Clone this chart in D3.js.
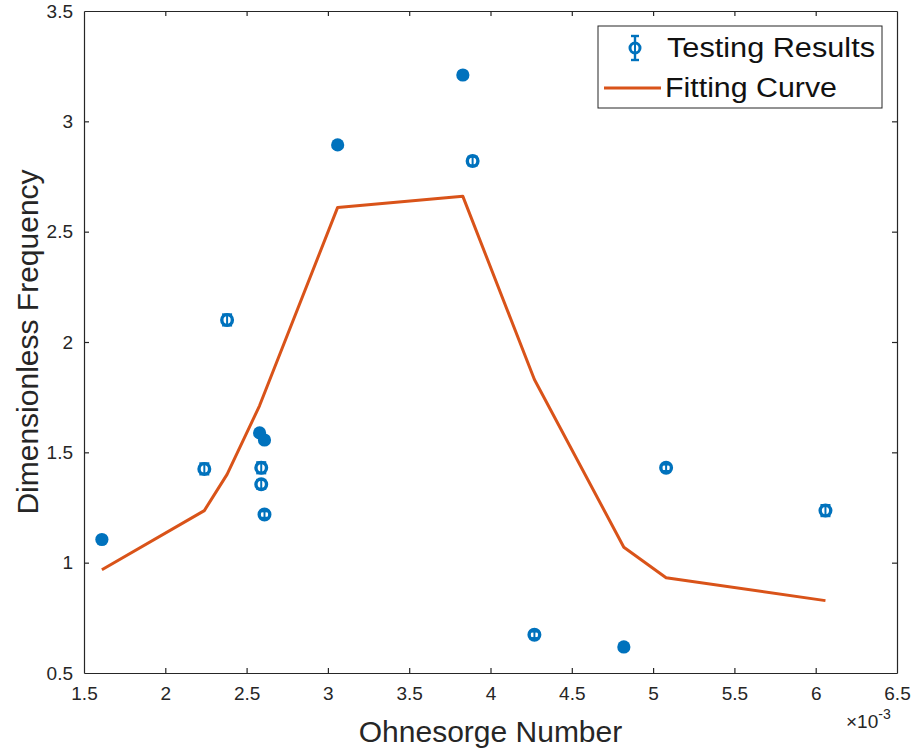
<!DOCTYPE html>
<html>
<head>
<meta charset="utf-8">
<script src="https://cdn.jsdelivr.net/npm/d3@7"></script>
<style>
  html, body { margin: 0; padding: 0; background: #fff; }
  svg { display: block; font-family: "Liberation Sans", Arial, sans-serif; }
</style>
</head>
<body>
<svg id="chart" width="914" height="751"></svg>
<script>
// Measured Ohnesorge numbers (×10^-3) and dimensionless frequencies
const ohnesorge = [1.61, 2.24, 2.38, 2.58, 2.61, 2.59, 2.59, 2.61, 3.06, 3.83, 3.89, 4.27, 4.82, 5.08, 6.06];
const frequency = [1.105, 1.425, 2.10, 1.588, 1.556, 1.430, 1.355, 1.218, 2.893, 3.21, 2.82, 0.673, 0.618, 1.430, 1.236];
const errorBar  = [0.00, 0.025, 0.025, 0.00, 0.00, 0.025, 0.02, 0.015, 0.00, 0.00, 0.02, 0.015, 0.00, 0.015, 0.025];

// Fitting curve vertices
const fitX = [1.61, 2.24, 2.38, 2.58, 3.06, 3.83, 4.27, 4.82, 5.08, 6.06];
const fitY = [0.968, 1.236, 1.40, 1.712, 2.61, 2.66, 1.83, 1.07, 0.932, 0.828];

const xTicks = [1.5, 2, 2.5, 3, 3.5, 4, 4.5, 5, 5.5, 6, 6.5];
const yTicks = [0.5, 1, 1.5, 2, 2.5, 3, 3.5];

const svg = d3.select("#chart");
const plotL = 84, plotR = 897, plotT = 11, plotB = 673;

const x = d3.scaleLinear().domain([1.5, 6.5]).range([plotL, plotR]);
const y = d3.scaleLinear().domain([0.5, 3.5]).range([plotB, plotT]);

const blue = "#0072BD", orange = "#D95319", axisCol = "#262626";

// Axes with inward ticks
const tickLen = 5;
const xAxis = svg.append("g").attr("transform", `translate(0,${plotB})`)
  .call(d3.axisBottom(x).tickValues(xTicks).tickSizeInner(-tickLen).tickSizeOuter(0).tickPadding(14).tickFormat(d3.format("")));
const xAxisTop = svg.append("g").attr("transform", `translate(0,${plotT})`)
  .call(d3.axisTop(x).tickValues(xTicks).tickSizeInner(-tickLen).tickSizeOuter(0).tickFormat(""));
const yAxis = svg.append("g").attr("transform", `translate(${plotL},0)`)
  .call(d3.axisLeft(y).tickValues(yTicks).tickSizeInner(-tickLen).tickSizeOuter(0).tickPadding(11).tickFormat(d3.format("")));
const yAxisRight = svg.append("g").attr("transform", `translate(${plotR},0)`)
  .call(d3.axisRight(y).tickValues(yTicks).tickSizeInner(-tickLen).tickSizeOuter(0).tickFormat(""));

[xAxis, xAxisTop, yAxis, yAxisRight].forEach(g => {
  g.select(".domain").attr("stroke", axisCol).attr("stroke-width", 1.2);
  g.selectAll(".tick line").attr("stroke", axisCol).attr("stroke-width", 1.2);
  g.selectAll(".tick text").attr("fill", axisCol).attr("font-size", 19)
    .attr("font-family", '"Liberation Sans", Arial, sans-serif');
});
// drop the edge ticks that sit on the box corners
xAxis.selectAll(".tick line").filter(d => d === 1.5 || d === 6.5).remove();
xAxisTop.selectAll(".tick line").filter(d => d === 1.5 || d === 6.5).remove();
yAxis.selectAll(".tick line").filter(d => d === 0.5 || d === 3.5).remove();
yAxisRight.selectAll(".tick line").filter(d => d === 0.5 || d === 3.5).remove();

// Axis labels
svg.append("text").attr("x", (plotL + plotR) / 2).attr("y", 742)
  .attr("text-anchor", "middle").attr("font-size", 30).attr("fill", axisCol)
  .text("Ohnesorge Number");
svg.append("text").attr("transform", `translate(38,${(plotT + plotB) / 2}) rotate(-90)`)
  .attr("text-anchor", "middle").attr("font-size", 30).attr("fill", axisCol)
  .text("Dimensionless Frequency");

// Exponent label
const expo = svg.append("text").attr("x", 846).attr("y", 728).attr("font-size", 19).attr("fill", axisCol);
expo.append("tspan").text("\u00d710");
expo.append("tspan").attr("dy", -9).attr("font-size", 14).text("-3");

// Fitting curve
const line = d3.line().x((d, i) => x(fitX[i])).y((d, i) => y(fitY[i]));
svg.append("path").datum(fitX).attr("d", line)
  .attr("fill", "none").attr("stroke", orange).attr("stroke-width", 3)
  .attr("stroke-linejoin", "round");

// Testing results: open circle markers with error bars
const pts = ohnesorge.map((v, i) => ({ x: v, y: frequency[i], e: errorBar[i] }));
const g = svg.append("g");
pts.forEach(p => {
  const cx = x(p.x), cy = y(p.y);
  if (p.e > 0) {
    g.append("line").attr("x1", cx).attr("x2", cx).attr("y1", y(p.y - p.e)).attr("y2", y(p.y + p.e))
      .attr("stroke", blue).attr("stroke-width", 2);
    [p.y - p.e, p.y + p.e].forEach(v => {
      g.append("line").attr("x1", cx - 5).attr("x2", cx + 5).attr("y1", y(v)).attr("y2", y(v))
        .attr("stroke", blue).attr("stroke-width", 2.2);
    });
    g.append("circle").attr("cx", cx).attr("cy", cy).attr("r", 5.3)
      .attr("fill", "none").attr("stroke", blue).attr("stroke-width", 3.4);
  } else {
    g.append("circle").attr("cx", cx).attr("cy", cy).attr("r", 6.6).attr("fill", blue);
  }
});

// Legend
const lg = svg.append("g");
lg.append("rect").attr("x", 598).attr("y", 26).attr("width", 284).attr("height", 82)
  .attr("fill", "#fff").attr("stroke", axisCol).attr("stroke-width", 1);
const lx = 635, ly1 = 48, ly2 = 88;
lg.append("line").attr("x1", lx).attr("x2", lx).attr("y1", ly1 - 12).attr("y2", ly1 + 12).attr("stroke", blue).attr("stroke-width", 2.4);
[ly1 - 12, ly1 + 12].forEach(v => lg.append("line").attr("x1", lx - 4).attr("x2", lx + 4).attr("y1", v).attr("y2", v).attr("stroke", blue).attr("stroke-width", 2.4));
lg.append("circle").attr("cx", lx).attr("cy", ly1).attr("r", 5).attr("fill", "#fff").attr("stroke", blue).attr("stroke-width", 3);
lg.append("line").attr("x1", lx).attr("x2", lx).attr("y1", ly1 - 5).attr("y2", ly1 + 5).attr("stroke", blue).attr("stroke-width", 2);
lg.append("text").attr("x", 667).attr("y", ly1 + 9).attr("font-size", 27).attr("fill", "#111")
  .attr("textLength", 208).attr("lengthAdjust", "spacingAndGlyphs").text("Testing Results");
lg.append("line").attr("x1", 604).attr("x2", 661).attr("y1", ly2).attr("y2", ly2).attr("stroke", orange).attr("stroke-width", 3);
lg.append("text").attr("x", 665).attr("y", ly2 + 9).attr("font-size", 27).attr("fill", "#111")
  .attr("textLength", 172).attr("lengthAdjust", "spacingAndGlyphs").text("Fitting Curve");
</script>
</body>
</html>
